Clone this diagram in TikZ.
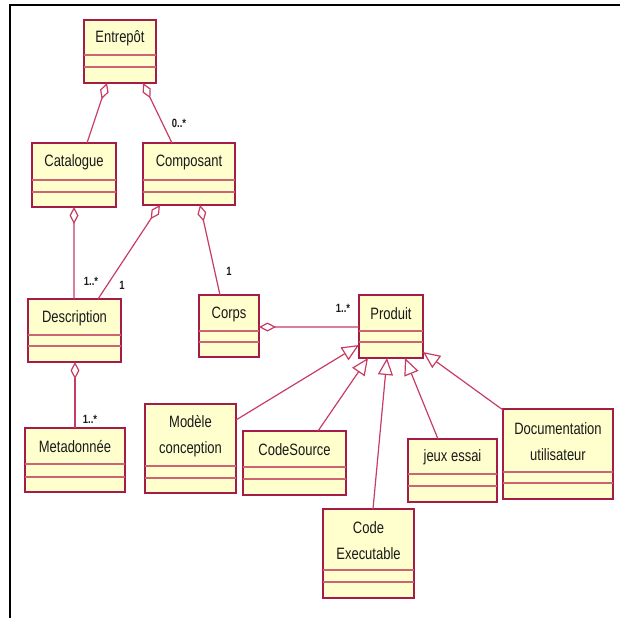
\documentclass[tikz,border=0pt]{standalone}
\usepackage{fontspec}
\newfontfamily\umlfont{Liberation Sans}[FakeStretch=0.79]
\usetikzlibrary{arrows.meta}
\definecolor{clsfill}{RGB}{255,255,206}
\definecolor{clsdraw}{RGB}{165,28,72}
\definecolor{cmpline}{RGB}{205,100,115}
\definecolor{conn}{RGB}{200,60,100}
\tikzset{
  cls/.style={draw=clsdraw, fill=clsfill, line width=1.2bp, inner sep=0pt, outer sep=0pt, rectangle},
  cmp/.style={draw=cmpline, line width=1.2bp},
  shadowline/.style={draw=clsdraw, line width=2.2bp},
  lbl/.style={font=\umlfont\fontsize{16.5}{26}\selectfont, align=center, inner sep=0pt, text=black!90},
  mult/.style={font=\umlfont\bfseries\fontsize{12}{14}\selectfont, inner sep=0pt, text=black!90},
  agg/.style={draw=conn, line width=1.2bp, {Diamond[open, fill=white, length=17bp, width=9bp]}-},
  gen/.style={draw=conn, line width=1.2bp, -{Triangle[open, fill=white, length=17bp, width=15bp]}},
  frameline/.style={draw=black, line width=2.2bp}
}
\newcommand\umlclass[8]{%
  \pgfmathsetmacro\ucx{(#2+#4)/2}%
  \pgfmathsetmacro\ucy{(#3+#5)/2}%
  \pgfmathsetmacro\uw{#4-#2}%
  \pgfmathsetmacro\uh{#5-#3}%
  \pgfmathsetmacro\uty{(#3+#6)/2+1}%
  \node[cls, minimum width=\uw bp, minimum height=\uh bp] (#1) at (\ucx,\ucy) {};
  \draw[cmp] (#2,#6) -- (#4,#6);
  \draw[cmp] (#2,#7) -- (#4,#7);
  \draw[shadowline] (#1.south west) -- (#1.south east);
  \node[lbl] (#1-t) at (\ucx,\uty) {#8};
}
\begin{document}
\begin{tikzpicture}[x=1bp, y=-1bp]
\useasboundingbox (0,0) rectangle (620,618);
\coordinate (frTR) at (620,5);
\coordinate (frTL) at (10,5);
\coordinate (frBL) at (10,618);
\draw[frameline] (frTR) -- (frTL) -- (frBL);

\umlclass{entrepot}{84}{20}{156}{83}{55}{67}{Entrepôt}
\umlclass{catalogue}{32}{143}{116}{207}{180}{192}{Catalogue}
\umlclass{composant}{143}{143}{235}{205}{180}{192}{Composant}
\umlclass{description}{28}{299}{121}{362}{335}{346}{Description}
\umlclass{corps}{199}{295}{259}{357}{331}{342}{Corps}
\umlclass{produit}{359}{295}{423}{358}{331}{342}{Produit}
\umlclass{modele}{145}{404}{236}{493}{466}{478}{Modèle\\conception}
\umlclass{codesource}{243}{431}{346}{495}{467}{479}{CodeSource}
\umlclass{jeux}{408}{439}{497}{502}{474}{486}{jeux essai}
\umlclass{doc}{503}{409}{613}{499}{472}{483}{Documentation\\utilisateur}
\umlclass{codeexec}{323}{509}{414}{598}{570}{582}{Code\\Executable}
\umlclass{meta}{25}{428}{125}{492}{464}{477}{Metadonnée}

% aggregations
\draw[agg] ([xshift=23bp]entrepot.south west) -- ([xshift=55bp]catalogue.north west);
\draw[agg] ([xshift=59bp]entrepot.south west) -- ([xshift=29bp]composant.north west);
\node[mult] (m1) at (179,123) {0..*};
\draw[agg] ([xshift=42bp]catalogue.south west) -- ([xshift=46bp]description.north west);
\node[mult] (m2) at (91,281) {1..*};
\draw[agg] ([xshift=17bp]composant.south west) -- ([xshift=70bp]description.north west);
\node[mult] (m3) at (122,285) {1};
\draw[agg] ([xshift=57bp]composant.south west) -- ([xshift=21bp]corps.north west);
\node[mult] (m4) at (229,271) {1};
\draw[agg] ([yshift=-32bp]corps.north east) -- ([yshift=-32bp]produit.north west);
\node[mult] (m5) at (343,308) {1..*};
\draw[agg] ([xshift=47bp]description.south west) -- ([xshift=50bp]meta.north west);
\node[mult] (m6) at (90,419) {1..*};

% generalizations
\draw[gen] ([yshift=-16bp]modele.north east) -- ([yshift=13bp]produit.south west);
\draw[gen] ([xshift=75bp]codesource.north west) -- ([xshift=9bp]produit.south west);
\draw[gen] ([xshift=50bp]codeexec.north west) -- ([xshift=28bp]produit.south west);
\draw[gen] ([xshift=30bp]jeux.north west) -- ([xshift=46bp]produit.south west);
\draw[gen] ([yshift=-1bp]doc.north west) -- ([yshift=6bp]produit.south east);
\end{tikzpicture}
\end{document}
